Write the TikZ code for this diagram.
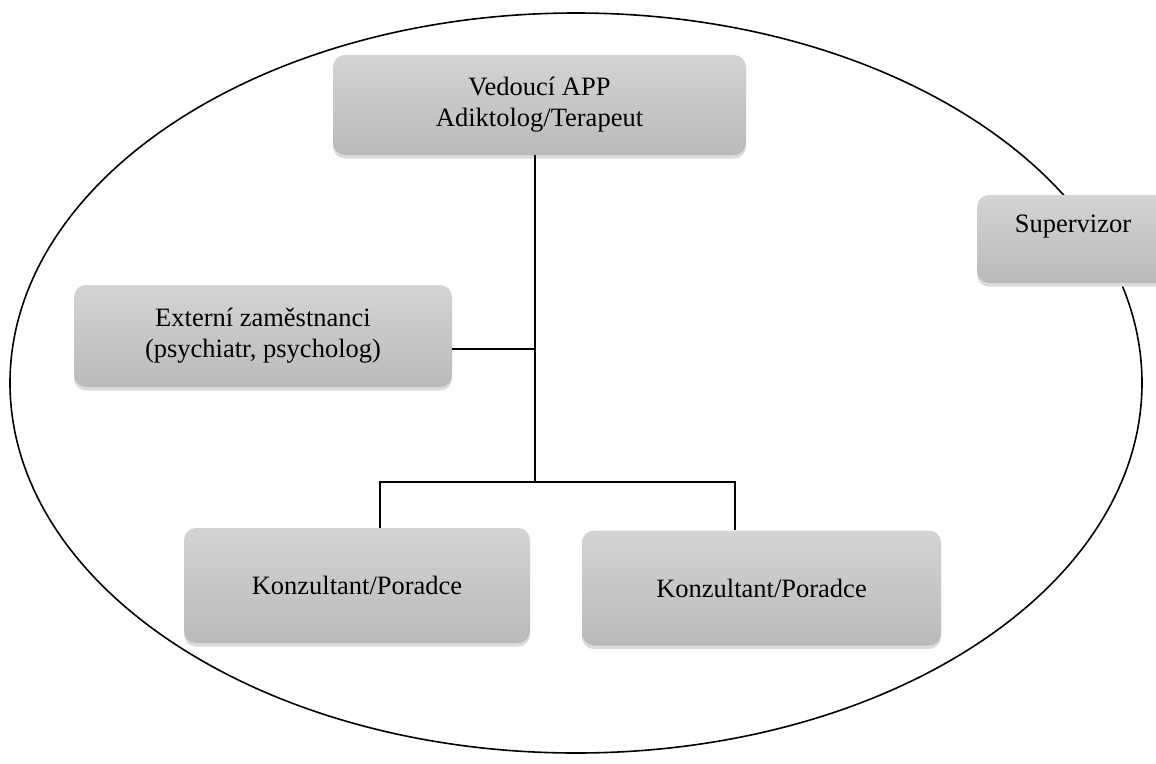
\documentclass[tikz,border=0pt]{standalone}
\usepackage{fontspec}
\setmainfont{Liberation Serif}
\usetikzlibrary{shadows}
\begin{document}
\begin{tikzpicture}[x=1pt,y=-1pt,
  orgbox/.style={rectangle, rounded corners=12pt, top color=black!17, bottom color=black!27,
    draw=none, align=center, font=\fontsize{26.5}{31}\selectfont, inner sep=0pt,
    drop shadow={shadow xshift=0pt, shadow yshift=-3.5pt, fill=black!14, opacity=1}},
  conn/.style={draw=black, line width=1.4pt}]
\useasboundingbox (0,0) rectangle (1156,763);
\draw[line width=1.6pt] (576,383) ellipse [x radius=566pt, y radius=370pt];
\node[orgbox, minimum width=413pt, minimum height=100pt] (top) at (539.5,105) {Vedoucí APP\\Adiktolog/Terapeut};
\node[orgbox, minimum width=192pt, minimum height=88pt] (sup) at (1073,239) {Supervizor\\\mbox{}};
\node[orgbox, minimum width=378pt, minimum height=102pt] (ext) at (263,336) {Externí zaměstnanci\\(psychiatr, psycholog)};
\node[orgbox, minimum width=346pt, minimum height=115pt] (k1) at (357,585.5) {Konzultant/Poradce};
\node[orgbox, minimum width=359pt, minimum height=115pt] (k2) at (761.5,588) {Konzultant/Poradce};
\coordinate (j1) at (535,349);
\coordinate (j2) at (535,482);
\coordinate (l) at (380,482);
\coordinate (r) at (735,482);
\draw[conn] (top.south -| j1) -- (j2);
\draw[conn] (ext.east |- j1) -- (j1);
\draw[conn] (l |- k1.north) -- (l) -- (r) -- (r |- k2.north);
\end{tikzpicture}
\end{document}
